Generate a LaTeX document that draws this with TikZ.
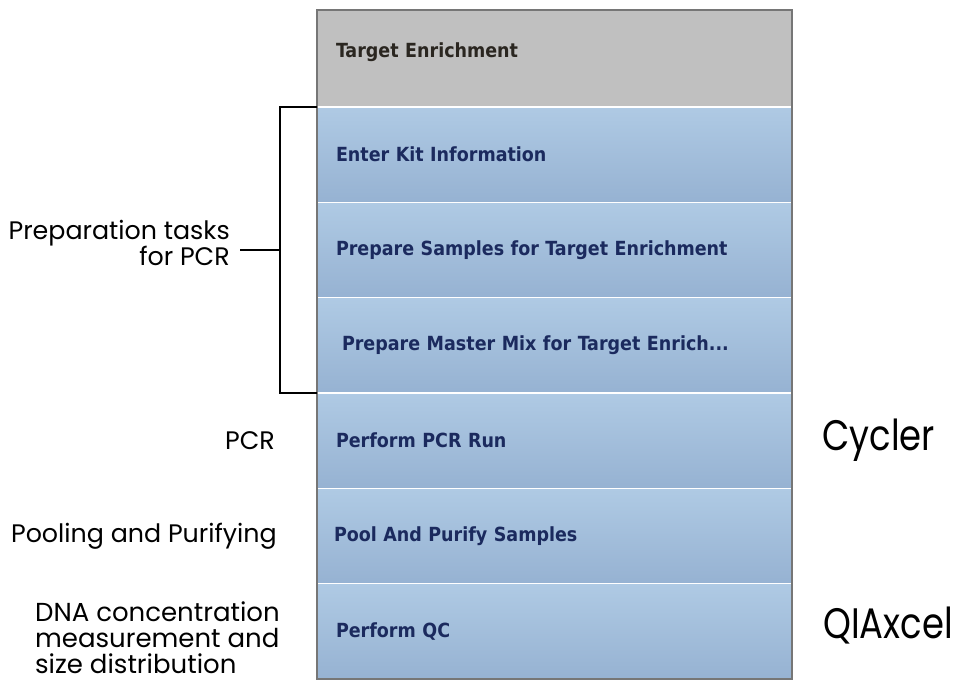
\documentclass[tikz,border=0pt]{standalone}
\usepackage{fontspec}
\setmainfont{Liberation Sans}
\newfontfamily\panelfont{DejaVu Sans Condensed}
\newfontfamily\labelfont{Poppins}
\newfontfamily\toolfont[FakeStretch=0.83]{Poppins}
\usepackage{tikz}
\usetikzlibrary{positioning,calc}
\definecolor{headgray}{HTML}{C0C0C0}
\definecolor{rowtop}{HTML}{AFCAE4}
\definecolor{rowbot}{HTML}{96B2D2}
\definecolor{navy}{HTML}{1B2A5E}
\definecolor{headtext}{HTML}{2A2620}
\definecolor{framegray}{HTML}{767676}

\begin{document}
\begin{tikzpicture}[
 x=0.75pt,y=0.75pt,
 node distance=0pt,
 cell/.style={rectangle,draw=white,line width=1.1pt,outer sep=0pt,inner ysep=0pt,inner xsep=14.25pt,
   minimum width=356.25pt,text width=327.75pt,align=left,minimum height=71.5pt,
   font=\panelfont\bfseries\fontsize{14.6}{16}\selectfont,text=navy,top color=rowtop,bottom color=rowbot},
 head/.style={cell,minimum height=72.75pt,text depth=13pt,top color=headgray,bottom color=headgray,text=headtext},
 tag/.style={inner sep=0pt,font=\labelfont\fontsize{19}{19.5}\selectfont},
 tool/.style={inner sep=0pt,font=\toolfont\fontsize{32}{34}\selectfont},
 brk/.style={line width=1.1pt,black}
]
\useasboundingbox (0,0) rectangle (964,681);
% workflow panel
\node[head,anchor=north west] (target) at (317,671) {Target Enrichment};
\node[cell,below=of target] (kit) {Enter Kit Information};
\node[cell,below=of kit] (samples) {Prepare Samples for Target Enrichment};
\node[cell,below=of samples,inner xsep=18.75pt,text width=318.75pt] (master) {Prepare Master Mix for Target Enrich...};
\node[cell,below=of master] (pcr) {Perform PCR Run};
\node[cell,below=of pcr,inner xsep=12.75pt,text width=330.75pt] (pool) {Pool And Purify Samples};
\node[cell,below=of pool] (qc) {Perform QC};
\draw[framegray,line width=1.2pt] (target.north west) rectangle (qc.south east);

% bracket for the preparation steps
\draw[brk] (kit.north west) -- ++(-27.75pt,0) coordinate (btop) |- (master.south west);
\coordinate (bmid) at ($(btop)!0.5!(btop|-master.south west)$);
\draw[brk] (bmid) -- ++(-30pt,0) coordinate (bend);
\node[tag,align=right,left=7.5pt of bend,yshift=5pt] (prep) {Preparation tasks\\for PCR};

% step labels
\node[tag,left=31.5pt of pcr] (pcrtag) {PCR};
\node[tag,left=30pt of pool] (pooltag) {Pooling and Purifying};
\node[tag,align=left,left=27.75pt of qc,yshift=-5pt,font=\labelfont\fontsize{19.5}{19.5}\selectfont] (qctag) {DNA concentration\\measurement and\\size distribution};

% instruments
\node[tool,right=22.5pt of pcr] (cycler) {Cycler};
\node[tool,right=23.25pt of qc,yshift=4.5pt] (qiax) {QIAxcel};
\end{tikzpicture}
\end{document}
